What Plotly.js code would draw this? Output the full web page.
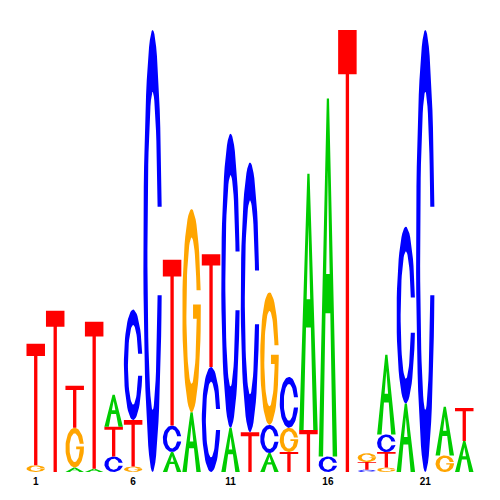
<!DOCTYPE html>
<html>
<head>
<meta charset="utf-8">
<script src="https://cdn.plot.ly/plotly-3.0.1.min.js"></script>
<style>html,body{margin:0;padding:0;background:#fff;}#chart{width:500px;height:500px;}</style>
</head>
<body>
<div id="chart"></div>
<script>
// Sequence logo data (bits per nucleotide per position)
const positions = [1,2,3,4,5,6,7,8,9,10,11,12,13,14,15,16,17,18,19,20,21,22,23];
const bitsA = [0,    0,    0.02, 0.015,0.145,0,    0,    0.09, 0.27, 0,    0.20, 0,    0.086,0,    1.16, 1.62, 0,    0,    0.36, 0.31, 0,    0.22, 0.14];
const bitsC = [0,    0,    0,    0,    0.07, 0.50, 2.00, 0.12, 0,    0.475,1.33, 1.22, 0.127,0.23, 0,    0.07, 0,    0.01, 0.08, 0.80, 2.00, 0,    0   ];
const bitsG = [0.03, 0,    0.18, 0,    0,    0.025,0,    0,    0.92, 0,    0,    0,    0.60, 0.11, 0,    0,    0,    0.04, 0.02, 0,    0,    0.075,0   ];
const bitsT = [0.55, 0.73, 0.19, 0.665,0.135,0.21, 0,    0.75, 0,    0.51, 0,    0.18, 0,    0.09, 0.19, 0,    2.00, 0.035,0.07, 0,    0,    0,    0.15];
const letters = ['A','C','G','T'];
const letterColors = {A:'#00CC00', C:'#0000FF', G:'#FFA500', T:'#FF0000'};
const tickVals = [1,6,11,16,21];
const tickText = ['1','6','11','16','21'];

// Glyph outlines in a unit box
function arc(cx, cy, rx, ry, a0, a1, n){
  const pts=[];
  for(let i=0;i<=n;i++){const a=a0+(a1-a0)*i/n;pts.push([cx+rx*Math.cos(a),cy+ry*Math.sin(a)]);}
  return pts;
}
const RXI=0.28, RYI=0.36;
function glyphC(){
  const a1=Math.asin(0.1/0.5), b1=Math.asin(0.1/RYI);
  return arc(0.5,0.5,0.5,0.5,a1,2*Math.PI-a1,60).concat(arc(0.5,0.5,RXI,RYI,2*Math.PI-b1,b1,60));
}
function glyphG(){
  const a1=Math.asin(0.1/0.5), b1=Math.asin(0.1/RYI), bEnd=2*Math.PI-Math.asin(0.04/RYI);
  let p=arc(0.5,0.5,0.5,0.5,a1,2*Math.PI,60);
  p.push([1,0.53],[0.58,0.53],[0.58,0.46]);
  p=p.concat(arc(0.5,0.5,RXI,RYI,bEnd,b1,60));
  return p;
}
function glyphT(){
  return [[0,1],[1,1],[1,0.9],[0.59,0.9],[0.59,0],[0.41,0],[0.41,0.9],[0,0.9]];
}
function glyphA(){
  const legW=0.24, apexIn=0.8, lo=0.40, hi=0.51;
  const inL=y=>legW+(0.5-legW)*y/apexIn, inR=y=>1-inL(y);
  return [[0,0],[0.44,1],[0.56,1],[1,0],[1-legW,0],[inR(lo),lo],[inL(lo),lo],[inL(hi),hi],
          [inR(hi),hi],[0.5,apexIn],[inL(hi),hi],[inL(lo),lo],[legW,0],[0,0]];
}
const glyphs={A:glyphA(),C:glyphC(),G:glyphG(),T:glyphT()};
const bits={A:bitsA,C:bitsC,G:bitsG,T:bitsT};

const traces=[];
const W=0.95;
positions.forEach((pos,i)=>{
  const stack=letters.map(l=>({l,h:bits[l][i]})).filter(d=>d.h>0).sort((a,b)=>a.h-b.h);
  let base=0;
  stack.forEach(d=>{
    const g=glyphs[d.l];
    traces.push({type:'scatter',mode:'lines',
      x:g.map(p=>pos-W/2+p[0]*W), y:g.map(p=>base+p[1]*d.h),
      fill:'toself',fillcolor:letterColors[d.l],line:{width:0,color:letterColors[d.l]},
      hoverinfo:'skip',showlegend:false});
    base+=d.h;
  });
});

const layout={
  width:500,height:500,
  margin:{l:26,r:26,t:30,b:28},
  paper_bgcolor:'#fff',plot_bgcolor:'#fff',
  showlegend:false,
  xaxis:{range:[0.5,23.5],showgrid:false,zeroline:false,showline:false,ticks:'',
    tickmode:'array',tickvals:tickVals,ticktext:tickText,ticklabelstandoff:2,
    tickfont:{family:'Liberation Sans, Arial, sans-serif',size:10,color:'#000',weight:'bold'}},
  yaxis:{range:[0,2],visible:false,showgrid:false,zeroline:false}
};
Plotly.newPlot('chart',traces,layout,{staticPlot:true});
</script>
</body>
</html>
